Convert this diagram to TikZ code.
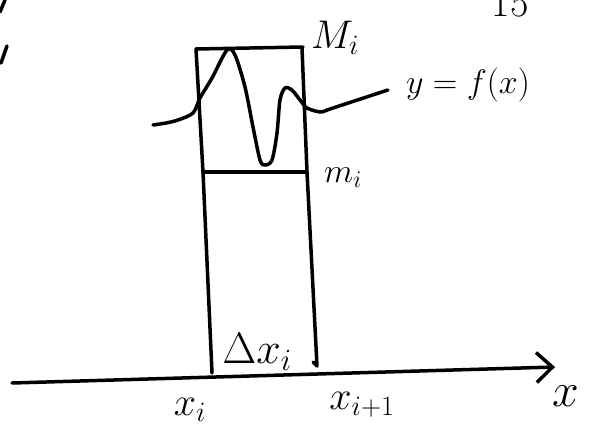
\documentclass[tikz,border=0pt]{standalone}
\usepackage{fix-cm}
\usepackage{tikz}
\usetikzlibrary{arrows.meta}

\begin{document}
\begin{tikzpicture}[
x=1pt,y=-1pt,
pen/.style={line width=3.5pt,line cap=round,line join=round},
lbl/.style={inner sep=0pt,font=\fontsize{40}{40}\selectfont},
arr/.style={pen,-{Straight Barb[length=16pt,width=30pt]}}
]
\useasboundingbox (0,0) rectangle (594,434);
\draw[pen] (0,12)--(5,0);
\draw[pen] (7,46)--(1,63);
\node[lbl] (page) at (510,4) {15};
\draw[pen] (196,49)--(303,47);
\draw[pen] (196,49)--(203,172)--(212,373);
\draw[pen] (302,48)--(307,172)--(317,366)--(313,362);
\draw[pen] (203,172)--(307,172);
\draw[pen] plot[smooth] coordinates {(153,125) (166,123) (178,120) (193,113) (200,98) (212,78) (227,50) (235,55) (245,87) (253,127) (260,160) (265,165) (272,160) (277,133) (280,100) (285,88) (292,90) (300,100) (307,108) (320,112) (327,110)};
\coordinate (fend) at (327,110);
\coordinate (ostart) at (12,383);
\coordinate (oend) at (555,367);
\node[lbl] (Mi) at (335,38) {$M_i$};
\node[lbl,font=\fontsize{34}{34}\selectfont] (mi) at (343,178) {$m_i$};
\node[lbl,font=\fontsize{34}{34}\selectfont] (fx) at (468,85) {$y=f(x)$};
\node[lbl,font=\fontsize{44}{44}\selectfont] (dx) at (257,352) {$\Delta x_i$};
\node[lbl] (xi) at (190,410) {$x_i$};
\node[lbl] (xii) at (362,405) {$x_{i+1}$};
\node[lbl,font=\fontsize{48}{48}\selectfont] (xax) at (566,396) {$x$};
\draw[pen] (fend)--([xshift=-18pt,yshift=-5pt]fx.west);
\draw[arr] (ostart)--(oend);
\end{tikzpicture}
\end{document}
